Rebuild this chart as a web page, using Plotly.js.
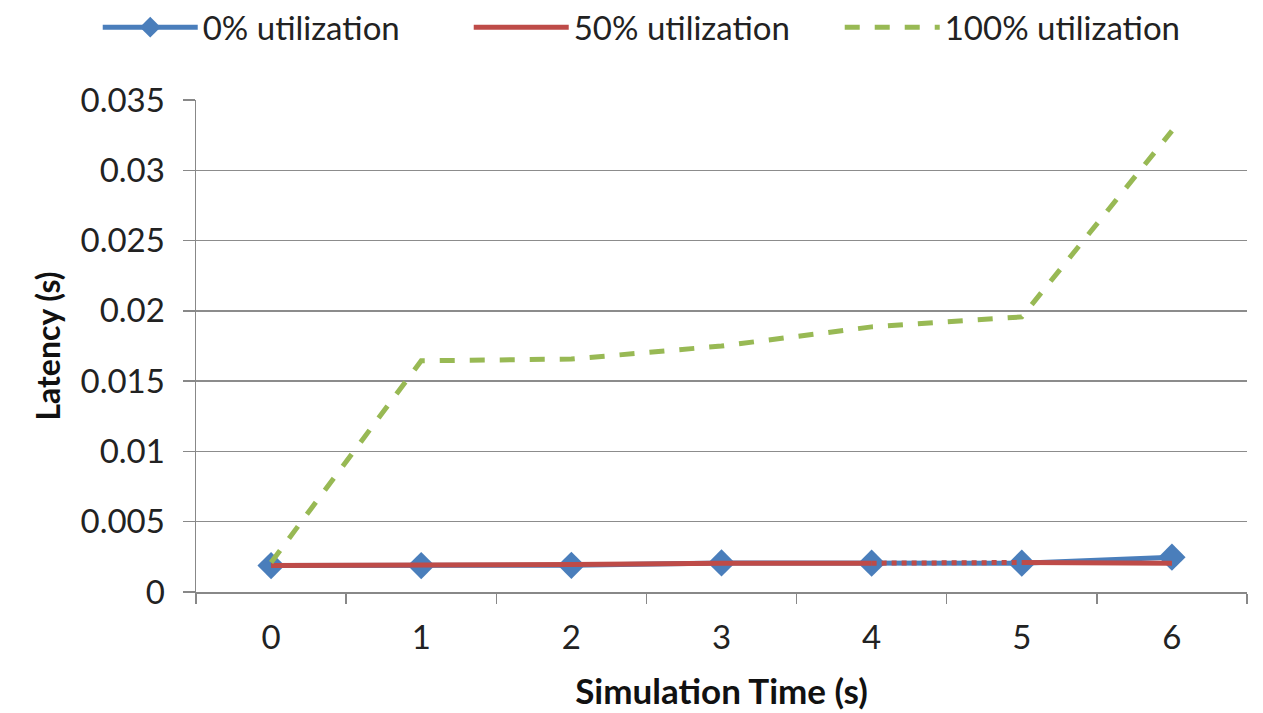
<!DOCTYPE html>
<html>
<head>
<meta charset="utf-8">
<script src="https://cdn.plot.ly/plotly-3.0.1.min.js"></script>
<style>html,body{margin:0;padding:0;background:#fff;}#chart{width:1263px;height:713px;}</style>
</head>
<body>
<div id="chart"></div>
<script>
const categories = ['0', '1', '2', '3', '4', '5', '6'];
const util0 = [0.00188, 0.00188, 0.0019, 0.00207, 0.00205, 0.00205, 0.00248];
const util50 = [0.00188, 0.00188, 0.00195, 0.00205, 0.00205, 0.0021, 0.00205];
const util100 = [0.0021, 0.01645, 0.01657, 0.0175, 0.01886, 0.01957, 0.0328];
const seriesNames = ['0% utilization', '50% utilization', '100% utilization'];
const yTicks = [0, 0.005, 0.01, 0.015, 0.02, 0.025, 0.03, 0.035];
const yTickText = ['0', '0.005', '0.01', '0.015', '0.02', '0.025', '0.03', '0.035'];

const blue = '#4A7EBB', red = '#BE4B48', green = '#98B954';
const font = 'Lato, "Open Sans", sans-serif';

const traces = [
  {x: categories, y: util0, name: seriesNames[0], mode: 'lines+markers', type: 'scatter',
   line: {color: blue, width: 5}, marker: {symbol: 'diamond', size: 21, color: blue}},
  {x: categories.slice(0, 5), y: util50.slice(0, 5), name: seriesNames[1], mode: 'lines', type: 'scatter',
   line: {color: red, width: 5}, legendgroup: 'r'},
  {x: categories.slice(4, 6), y: util50.slice(4, 6), name: seriesNames[1], mode: 'lines', type: 'scatter',
   line: {color: red, width: 5, dash: 'dot'}, legendgroup: 'r', showlegend: false},
  {x: categories.slice(5), y: util50.slice(5), name: seriesNames[1], mode: 'lines', type: 'scatter',
   line: {color: red, width: 5}, legendgroup: 'r', showlegend: false},
  {x: categories, y: util100, name: seriesNames[2], mode: 'lines', type: 'scatter',
   line: {color: green, width: 5, dash: 'dash'}}
];

const layout = {
  width: 1263, height: 713,
  margin: {l: 196, r: 16, t: 100, b: 121, autoexpand: false},
  paper_bgcolor: '#fff', plot_bgcolor: '#fff',
  font: {family: font, size: 32, color: '#222'},
  showlegend: true,
  legend: {orientation: 'h', xref: 'paper', x: -0.0935, xanchor: 'left',
           yref: 'paper', y: 1.148, yanchor: 'middle',
           font: {family: font, size: 33, color: '#222'}, itemwidth: 95, entrywidth: 261,
           traceorder: 'normal'},
  xaxis: {
    type: 'category', range: [-0.5, 6.5], tickson: 'boundaries',
    ticks: 'outside', ticklen: 10, tickwidth: 1.5, tickcolor: '#888',
    showline: true, linecolor: '#888', linewidth: 1.5, showgrid: false, zeroline: false,
    tickfont: {family: font, size: 33, color: '#222'}, ticklabelstandoff: 16,
    title: {text: '<b>Simulation Time (s)</b>', font: {family: font, size: 35, color: '#111'}, standoff: 24}
  },
  yaxis: {
    range: [0, 0.035], tickvals: yTicks, ticktext: yTickText,
    ticks: 'outside', ticklen: 12, tickwidth: 1.5, tickcolor: '#888',
    showline: true, linecolor: '#888', linewidth: 1.5,
    showgrid: true, gridcolor: '#8c8c8c', gridwidth: 1.5, zeroline: false,
    tickfont: {family: font, size: 33, color: '#222'}, ticklabelstandoff: 11,
    title: {text: '<b>Latency (s)</b>', font: {family: font, size: 32, color: '#111'}, standoff: 10}
  }
};

Plotly.newPlot('chart', traces, layout, {displayModeBar: false, staticPlot: true});
</script>
</body>
</html>
